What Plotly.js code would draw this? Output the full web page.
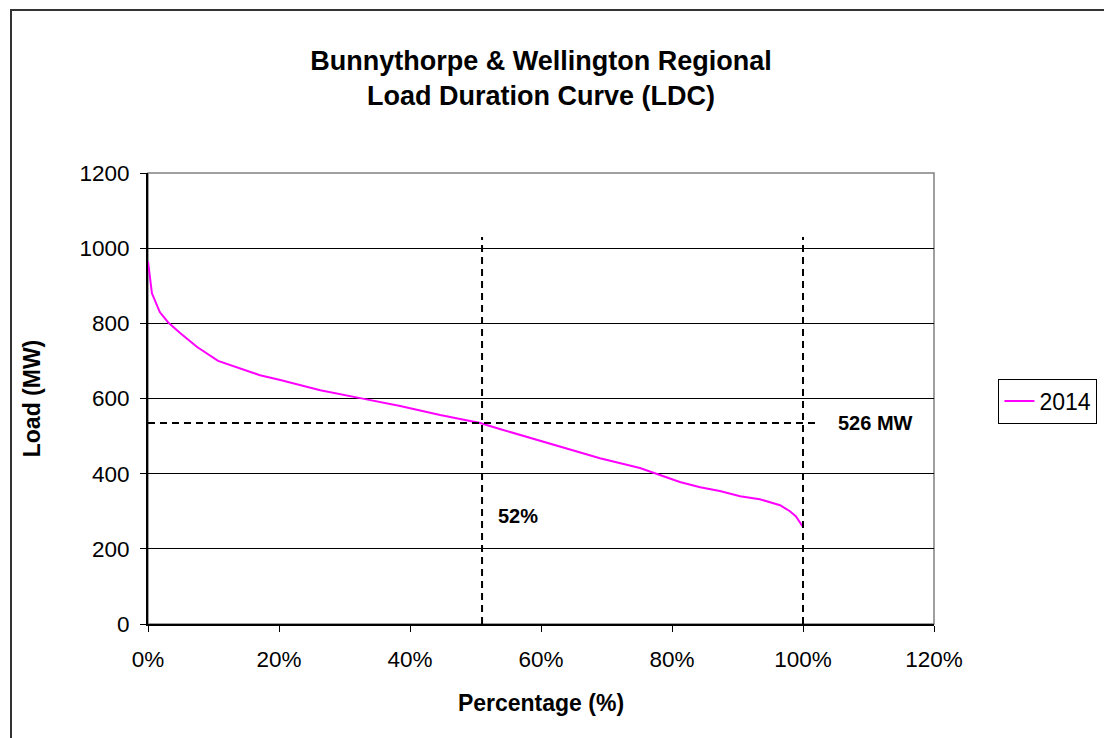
<!DOCTYPE html>
<html>
<head>
<meta charset="utf-8">
<script src="https://cdn.plot.ly/plotly-3.0.1.min.js"></script>
<style>
  html, body { margin: 0; padding: 0; background: #fff; }
  #chart { width: 1104px; height: 738px; }
</style>
</head>
<body>
<div id="chart"></div>
<script>
// Load duration curve, 2014 (percentage of time vs load in MW)
const pct2014 = [0, 0.6, 1.8, 3.05, 4.9, 7.5, 10.7, 14, 17.1, 20.2, 23.2, 26.3, 32.4, 38.5, 44.6, 50.7, 53.7, 56.8, 62.9, 69, 75.1, 78.2, 81.2, 84.3, 87.3, 90.4, 93.4, 96.5, 98, 98.9, 99.8, 100];
const load2014 = [965, 880, 830, 803, 774, 737, 700, 681, 662, 649, 636, 622, 601, 580, 556, 535, 519, 503, 471, 441, 415, 396, 378, 364, 354, 340, 332, 316, 300, 287, 263, 258];

// Reference markers
const refPct = [51, 100];        // vertical dashed guides (%)
const refLoad = 535;             // horizontal dashed guide (MW)
const guideTop = 1030;           // top of vertical guides (MW)
const guideRight = 102.3;        // end of horizontal guide (%)
const pctLabel = {text: '52%', x: 56.5, y: 287};
const loadLabel = {text: '526 MW', x: 111, y: 535};

const xTicks = [0, 20, 40, 60, 80, 100, 120];
const yTicks = [0, 200, 400, 600, 800, 1000, 1200];

const trace = {
  x: pct2014, y: load2014, type: 'scatter', mode: 'lines', name: '2014',
  line: {color: '#FF00FF', width: 2}
};

const dashLine = {color: '#000', width: 2, dash: '7px,5px'};
const shapes = [
  // outer chart border
  {type: 'rect', xref: 'paper', yref: 'paper', x0: -0.1743, x1: 2, y0: -1, y1: 1.3614,
   line: {color: '#333', width: 2}, layer: 'below'},
  // plot area border (top/right grey)
  {type: 'rect', xref: 'paper', yref: 'paper', x0: 0, x1: 1, y0: 0, y1: 1,
   line: {color: '#808080', width: 1.5}, layer: 'below'},
];
refPct.forEach(p => shapes.push({type: 'line', xref: 'x', yref: 'y', x0: p, x1: p, y0: 0, y1: guideTop, line: dashLine}));
shapes.push({type: 'line', xref: 'x', yref: 'y', x0: 0, x1: guideRight, y0: refLoad, y1: refLoad, line: dashLine});

const layout = {
  width: 1104, height: 738,
  margin: {l: 148, r: 170, t: 173, b: 114, autoexpand: false},
  paper_bgcolor: '#fff', plot_bgcolor: '#fff',
  font: {family: 'Arial, "Liberation Sans", sans-serif', color: '#000', size: 22.5},
  title: {
    text: '<b>Bunnythorpe & Wellington Regional<br>Load Duration Curve (LDC)</b>',
    font: {size: 27, color: '#000'},
    x: 0.5, xref: 'paper', y: 1 - 70/738, yref: 'container', yanchor: 'middle'
  },
  xaxis: {
    range: [0, 120], tickvals: xTicks, ticktext: xTicks.map(v => v + '%'),
    showgrid: false, zeroline: false,
    showline: true, linecolor: '#000', linewidth: 2,
    ticks: 'outside', ticklen: 6, tickcolor: '#000', tickwidth: 1,
    ticklabelstandoff: 8,
    tickfont: {size: 22.5},
    title: {text: '<b>Percentage (%)</b>', font: {size: 23}, standoff: 24}
  },
  yaxis: {
    range: [0, 1200], tickvals: yTicks,
    showgrid: true, gridcolor: '#000', gridwidth: 1, zeroline: false,
    showline: true, linecolor: '#000', linewidth: 2,
    ticks: 'outside', ticklen: 6, tickcolor: '#000', tickwidth: 1,
    ticklabelstandoff: 6,
    tickfont: {size: 22.5},
    title: {text: '<b>Load (MW)</b>', font: {size: 23}, standoff: 32}
  },
  showlegend: true,
  legend: {
    x: 1.082, y: 0.544, xanchor: 'left', yanchor: 'top',
    bordercolor: '#000', borderwidth: 1, bgcolor: '#fff',
    font: {size: 23}
  },
  shapes: shapes,
  annotations: [
    {text: '<b>' + pctLabel.text + '</b>', x: pctLabel.x, y: pctLabel.y, xref: 'x', yref: 'y', showarrow: false, font: {size: 20}},
    {text: '<b>' + loadLabel.text + '</b>', x: loadLabel.x, y: loadLabel.y, xref: 'x', yref: 'y', showarrow: false, font: {size: 20}}
  ]
};

Plotly.newPlot('chart', [trace], layout, {displayModeBar: false, staticPlot: true});
</script>
</body>
</html>
